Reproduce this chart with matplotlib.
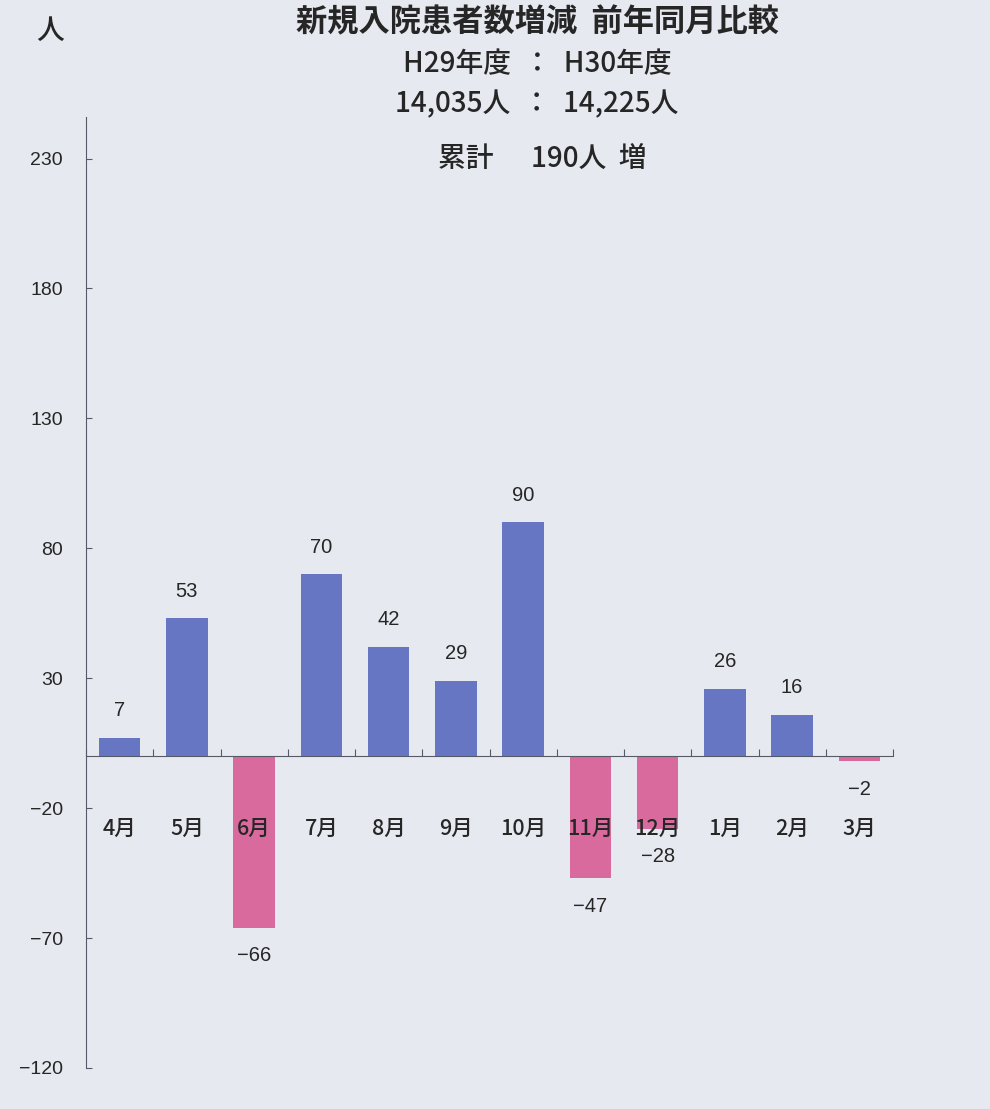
import matplotlib.pyplot as plt
import numpy as np

plt.rcParams['font.family'] = ['Noto Sans CJK JP', 'DejaVu Sans']

months = ['4月', '5月', '6月', '7月', '8月', '9月', '10月', '11月', '12月', '1月', '2月', '3月']
diff = [7, 53, -66, 70, 42, 29, 90, -47, -28, 26, 16, -2]
yticks = [-120, -70, -20, 30, 80, 130, 180, 230]

bg = '#e6e9ef'
blue = '#6676c2'
pink = '#d96a9e'
ink = '#262626'
num_font = ['Liberation Sans', 'DejaVu Sans']

fig = plt.figure(figsize=(9.9, 11.09), dpi=100, facecolor=bg)
ax = fig.add_axes([86/990, 1 - 1068/1109, (893 - 86)/990, (1068 - 117)/1109])
ax.set_facecolor(bg)

x = np.arange(len(months))
colors = [blue if v >= 0 else pink for v in diff]
ax.bar(x, diff, width=0.62, color=colors, zorder=2)

# value labels
for xi, v in zip(x, diff):
    off = 19.5 if v >= 0 else -20
    ax.annotate(str(v).replace('-', '−'), (xi, v), xytext=(0, off), textcoords='offset points',
                ha='center', va='center', fontsize=14.5, color=ink, family=num_font)

# month labels, drawn over the bars
for xi, m in zip(x, months):
    ax.annotate(m, (xi, 0), xytext=(0, -52.5), textcoords='offset points',
                ha='center', va='center', fontsize=15.5, color=ink, weight='medium', zorder=5)

ax.set_xlim(-0.5, len(months) - 0.5)
ax.set_ylim(-120, 246)

ax.spines['top'].set_visible(False)
ax.spines['right'].set_visible(False)
ax.spines['bottom'].set_position(('data', 0))
ax.spines['bottom'].set_color('#555a66')
ax.spines['left'].set_color('#555a66')

ax.set_xticks(np.arange(-0.5, len(months)))
ax.set_xticklabels([])
ax.tick_params(axis='x', direction='in', length=5, color='#555a66')

ax.set_yticks(yticks)
ax.set_yticklabels([str(t).replace('-', '−') for t in yticks], fontsize=14, color=ink,
                   family=num_font)
ax.tick_params(axis='y', direction='in', length=4, pad=16.5, color='#555a66')

fig.text(50/990, 1 - 30/1109, '人', fontsize=20, ha='center', va='center', color=ink, weight='medium')
fig.text(537/990, 1 - 22/1109, '新規入院患者数増減  前年同月比較', fontsize=22.5, ha='center', va='center',
         color=ink, weight='bold')
fig.text(537/990, 1 - 64/1109, 'H29年度  ：  H30年度', fontsize=20, ha='center', va='center',
         color=ink, weight='medium')
fig.text(537/990, 1 - 104/1109, '14,035人  ：  14,225人', fontsize=20, ha='center', va='center',
         color=ink, weight='medium')
fig.text(542/990, 1 - 158/1109, '累計      190人  増', fontsize=20, ha='center', va='center',
         color=ink, weight='medium')

fig.savefig('out.png', dpi=100, facecolor=bg)
